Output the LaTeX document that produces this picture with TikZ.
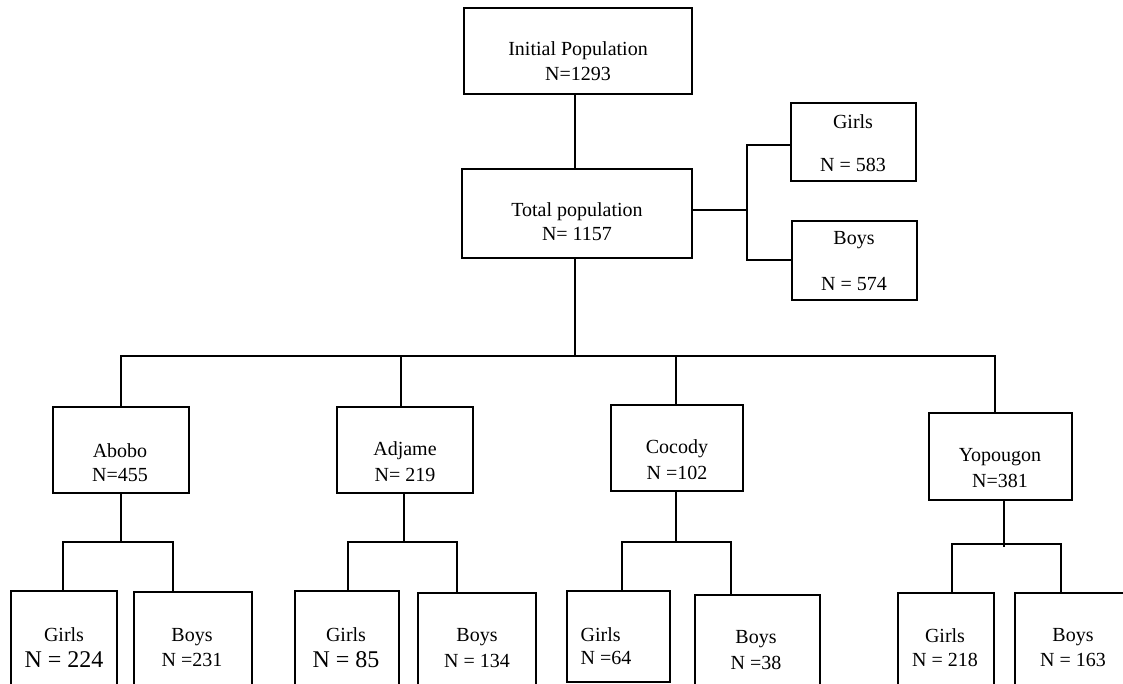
\documentclass[tikz,border=0pt]{standalone}
\usepackage{fontspec}
\setmainfont{Liberation Serif}
\begin{document}
\begin{tikzpicture}[x=0.75pt,y=-0.75pt, line width=0.9pt,
  box/.style 2 args={draw, rectangle, inner sep=0pt, outer sep=0pt,
    minimum width=#1*0.75pt, minimum height=#2*0.75pt},
  lbl/.style={anchor=base, inner sep=0pt, font=\fontsize{15}{18}\selectfont},
  big/.style={font=\fontsize{18}{21}\selectfont}]
\useasboundingbox (0,0) rectangle (1123,684);
\fill[white] (0,0) rectangle (1123,684);

% boxes
\node[box={228}{86}] (init) at (578,51) {};
\node[box={230}{89}] (total) at (577,213.5) {};
\node[box={125}{78}] (girlsT) at (853.5,142) {};
\node[box={125}{79}] (boysT) at (854.5,260.5) {};
\node[box={136}{86}] (abobo) at (121,450) {};
\node[box={136}{86}] (adjame) at (405,450) {};
\node[box={132}{86}] (cocody) at (677,448) {};
\node[box={143}{87}] (yop) at (1000.5,456.5) {};
\node[box={106}{109}] (gA) at (64,645.5) {};
\node[box={118}{108}] (bA) at (193,646) {};
\node[box={104}{109}] (gAd) at (347,645.5) {};
\node[box={118}{107}] (bAd) at (477,646.5) {};
\node[box={103}{91}] (gC) at (618.5,636.5) {};
\node[box={125}{105}] (bC) at (757.5,647.5) {};
\node[box={96}{107}] (gY) at (946,646.5) {};
\node[box={116}{107}] (bY) at (1073,646.5) {};

% junction points
\coordinate (trunk) at (575,356);
\coordinate (jAd) at (401,356);
\coordinate (jC) at (676,356);
\coordinate (jY) at (995,356);
\coordinate (sJ) at (747,210);
\coordinate (sT) at (747,145);
\coordinate (sB) at (747,260);
\coordinate (abJ) at (121,542); \coordinate (abL) at (63,542); \coordinate (abR) at (173,542);
\coordinate (adJ) at (404,542); \coordinate (adL) at (348,542); \coordinate (adR) at (457,542);
\coordinate (coJ) at (676,542); \coordinate (coL) at (622,542); \coordinate (coR) at (731,542);
\coordinate (yoJ) at (1004,547); \coordinate (yoL) at (952,544); \coordinate (yoR) at (1061,544);

% connectors
\draw (init.south -| trunk) -- (total.north -| trunk);
\draw (total.south -| trunk) -- (trunk);
\draw (abobo.north) -- (abobo.north |- trunk) -- (jY) -- (yop.north -| jY);
\draw (adjame.north -| jAd) -- (jAd);
\draw (cocody.north -| jC) -- (jC);
\draw (total.east |- sJ) -- (sJ);
\draw (girlsT.west |- sT) -- (sT) -- (sB) -- (boysT.west |- sB);
\draw (abobo.south) -- (abJ);
\draw (gA.north -| abL) -- (abL) -- (abR) -- (bA.north -| abR);
\draw (adjame.south -| adJ) -- (adJ);
\draw (gAd.north -| adL) -- (adL) -- (adR) -- (bAd.north -| adR);
\draw (cocody.south -| coJ) -- (coJ);
\draw (gC.north -| coL) -- (coL) -- (coR) -- (bC.north -| coR);
\draw (yop.south -| yoJ) -- (yoJ);
\draw (gY.north -| yoL) -- (yoL) -- (yoR) -- (bY.north -| yoR);

% texts
\node[lbl] (t1a) at (578,56) {Initial Population};
\node[lbl] (t1b) at (578,81) {N=1293};
\node[lbl] (t2a) at (577,217) {Total population};
\node[lbl] (t2b) at (577,240) {N= 1157};
\node[lbl] (t3a) at (853,129) {Girls};
\node[lbl] (t3b) at (853,172) {N = 583};
\node[lbl] (t4a) at (854,244) {Boys};
\node[lbl] (t4b) at (854,290) {N = 574};
\node[lbl] (t5a) at (120,457) {Abobo};
\node[lbl] (t5b) at (120,481) {N=455};
\node[lbl] (t6a) at (405,455) {Adjame};
\node[lbl] (t6b) at (405,481) {N= 219};
\node[lbl] (t7a) at (677,453) {Cocody};
\node[lbl] (t7b) at (677,479) {N =102};
\node[lbl] (t8a) at (1000,461) {Yopougon};
\node[lbl] (t8b) at (1000,487) {N=381};
\node[lbl] (t9a) at (64,641) {Girls};
\node[lbl,big] (t9b) at (64,667) {N = 224};
\node[lbl] (t10a) at (192,641) {Boys};
\node[lbl] (t10b) at (192,666) {N =231};
\node[lbl] (t11a) at (346,641) {Girls};
\node[lbl,big] (t11b) at (346,667) {N = 85};
\node[lbl] (t12a) at (477,641) {Boys};
\node[lbl] (t12b) at (477,667) {N = 134};
\node[lbl,anchor=base west] (t13a) at (580,641) {Girls};
\node[lbl,anchor=base west] (t13b) at (580,664) {N =64};
\node[lbl] (t14a) at (756,643) {Boys};
\node[lbl] (t14b) at (756,669) {N =38};
\node[lbl] (t15a) at (945,642) {Girls};
\node[lbl] (t15b) at (945,666) {N = 218};
\node[lbl] (t16a) at (1073,641) {Boys};
\node[lbl] (t16b) at (1073,666) {N = 163};
\end{tikzpicture}
\end{document}
